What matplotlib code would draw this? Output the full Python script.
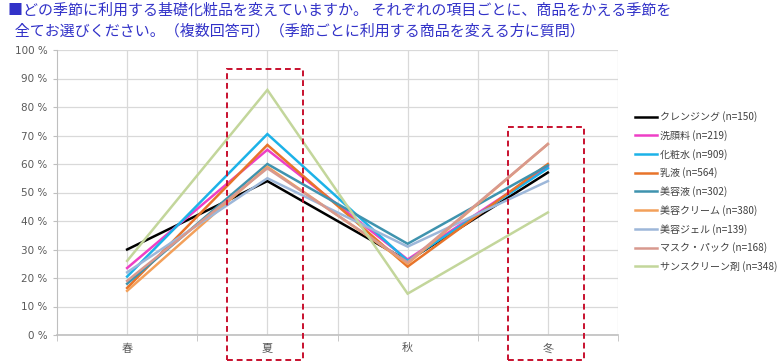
import matplotlib
matplotlib.use("Agg")
import matplotlib.pyplot as plt
from matplotlib.patches import Rectangle

plt.rcParams['font.family'] = ['Noto Sans CJK JP', 'DejaVu Sans']

seasons = ["春", "夏", "秋", "冬"]
series_names = ["クレンジング (n=150)", "洗顔料 (n=219)", "化粧水 (n=909)", "乳液 (n=564)",
                "美容液 (n=302)", "美容クリーム (n=380)", "美容ジェル (n=139)",
                "マスク・パック (n=168)", "サンスクリーン剤 (n=348)"]
cleansing = [30, 54, 26, 57]
face_wash = [23.5, 65, 26.5, 59]
lotion = [20.5, 70.5, 26, 58.5]
milk = [16.5, 66.7, 24, 60]
serum = [18, 60, 32, 59.5]
cream = [15.5, 59, 25, 67]
gel = [22, 55, 31, 54]
mask = [19, 58.5, 25.5, 67]
sunscreen = [26, 86, 14.5, 43]
series_values = [cleansing, face_wash, lotion, milk, serum, cream, gel, mask, sunscreen]
colors = ["#000000", "#EE3FC6", "#1CB2E8", "#E8742A", "#3F93AE",
          "#F3A05A", "#9DB7D9", "#D8998E", "#C3D69B"]
y_ticks = list(range(0, 101, 10))
y_tick_labels = [f"{v} %" for v in y_ticks]

fig = plt.figure(figsize=(7.8, 3.62), dpi=100)
ax = fig.add_axes([57/780, 27/362, 561/780, 285/362])

x = list(range(len(seasons)))
for name, vals, c in zip(series_names, series_values, colors):
    ax.plot(x, vals, color=c, lw=1.8, label=name, solid_joinstyle='miter')

ax.set_xlim(-0.5, 3.5)
ax.set_ylim(0, 100)
ax.set_yticks(y_ticks)
ax.set_yticklabels(y_tick_labels, color="#595959", fontsize=7.5, family=['DejaVu Sans'])
ax.set_xticks(x)
ax.set_xticklabels(seasons, color="#595959", fontsize=8)
ax.set_xticks([-0.5, 0.5, 1.5, 2.5, 3.5], minor=True)
ax.tick_params(axis='x', which='major', length=0, pad=6)
ax.tick_params(axis='x', which='minor', length=4, color="#BFBFBF", direction='out')
ax.tick_params(axis='y', length=3, color="#BFBFBF", pad=4)
for v in y_ticks:
    ax.axhline(v, color="#D9D9D9", lw=0.9, zorder=0)
for xv in [0, 0.5, 1, 1.5, 2, 2.5, 3, 3.5]:
    ax.axvline(xv, color="#D9D9D9", lw=0.9, zorder=0)
for s in ['top', 'right']:
    ax.spines[s].set_visible(False)
ax.spines['left'].set_color("#BFBFBF")
ax.spines['bottom'].set_color("#BFBFBF")
ax.spines['bottom'].set_linewidth(1.2)

# red dashed highlight boxes
for cx, top in [(1, 93.3), (3, 73)]:
    r = Rectangle((cx - 0.285, -8.8), 0.54, top + 8.8, fill=False, ec="#C8102E",
                  lw=1.4, ls=(0, (3, 2)), clip_on=False, zorder=5)
    ax.add_patch(r)

leg = ax.legend(loc='upper left', bbox_to_anchor=(1.03, 0.785), frameon=False,
                fontsize=7.2, handlelength=2.2, handletextpad=0.3, labelspacing=0.78,
                borderaxespad=0, borderpad=0)
for t in leg.get_texts():
    t.set_color("#404040")

fig.text(8/780, 1 - 11/362, "■どの季節に利用する基礎化粧品を変えていますか。 それぞれの項目ごとに、商品をかえる季節を",
         color="#3232C8", fontsize=10.8, va='center', ha='left')
fig.text(8/780, 1 - 31/362, "  全てお選びください。（複数回答可）（季節ごとに利用する商品を変える方に質問）",
         color="#3232C8", fontsize=10.8, va='center', ha='left')

fig.savefig("out.png", dpi=100)
